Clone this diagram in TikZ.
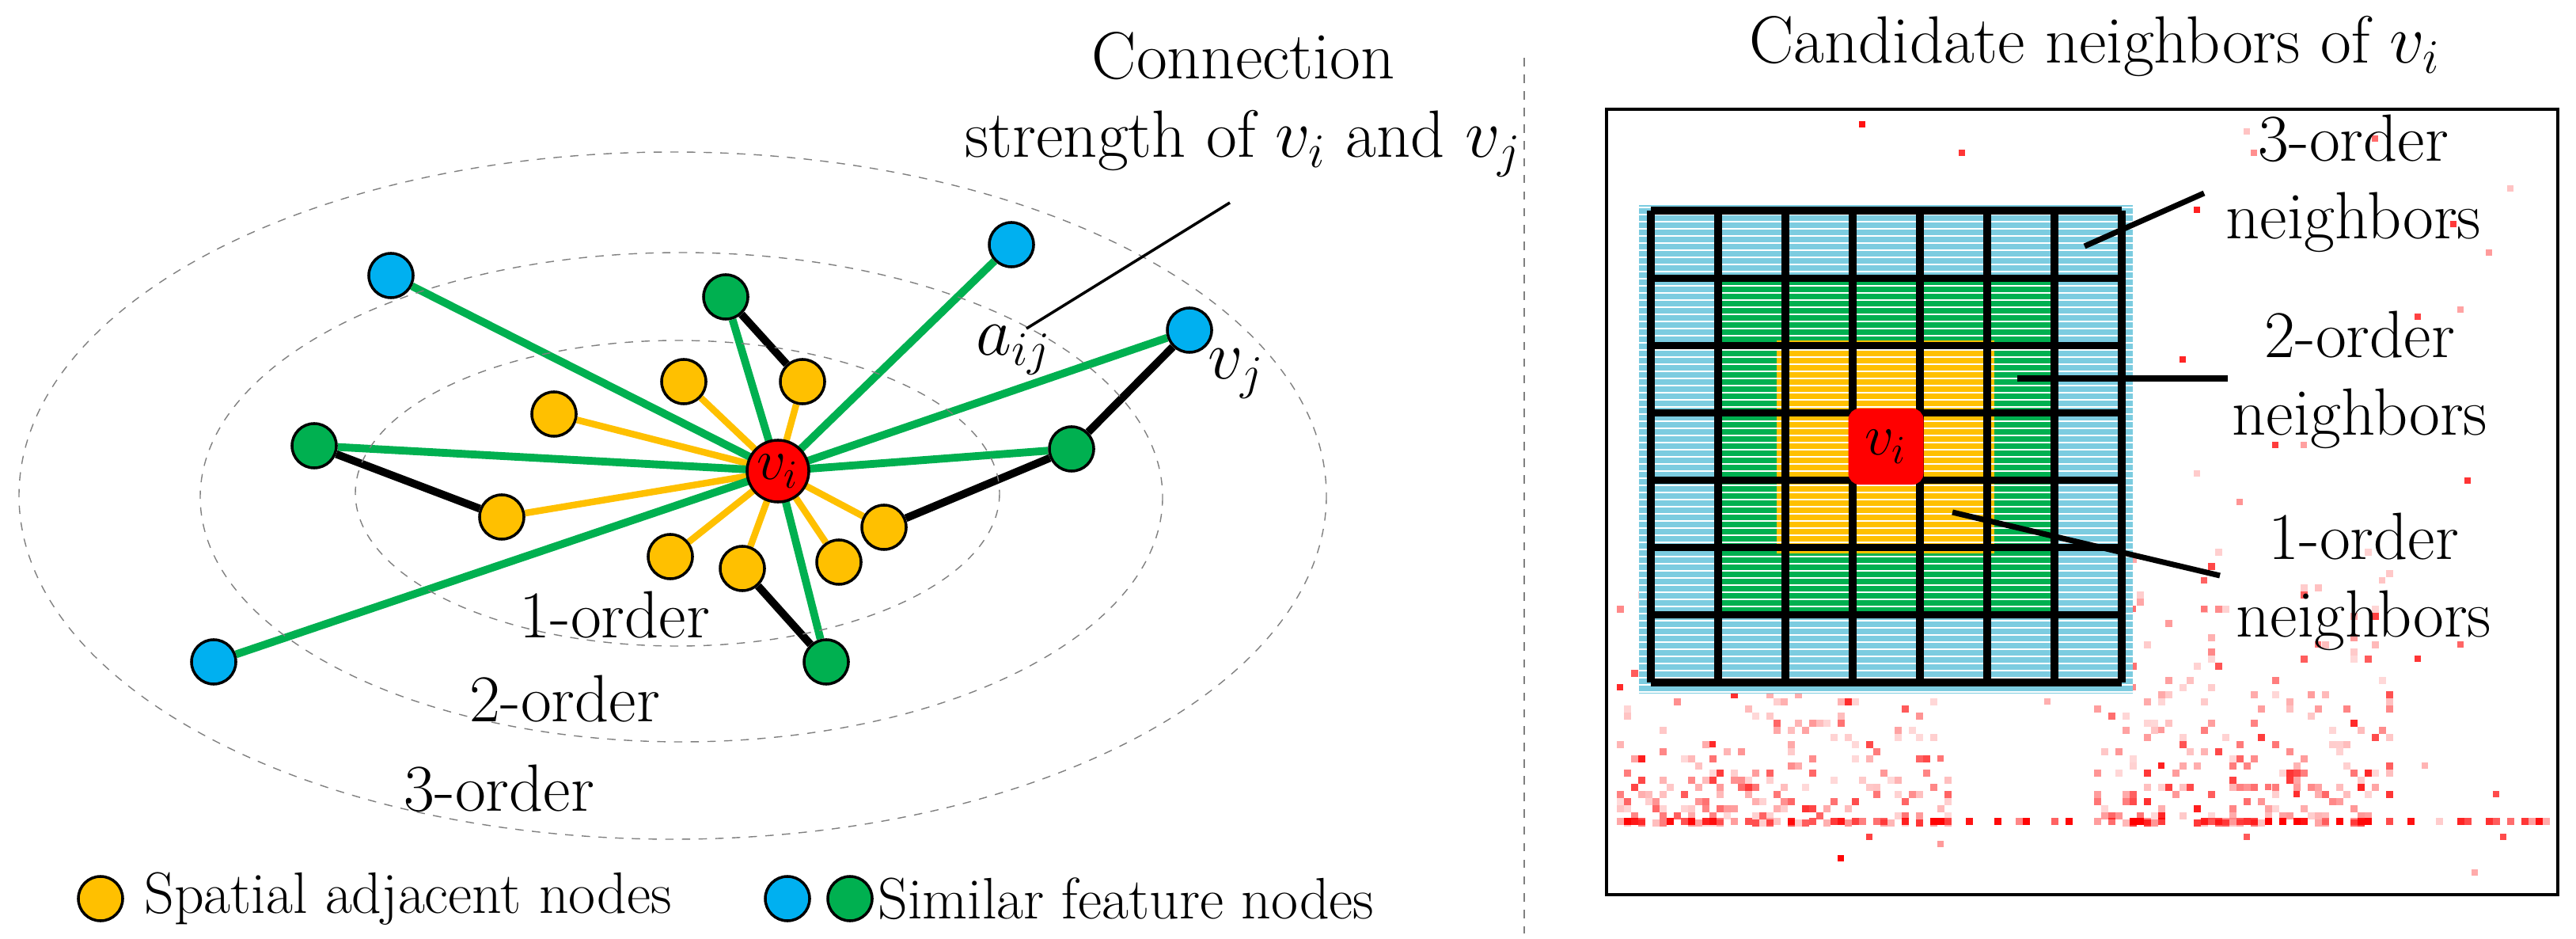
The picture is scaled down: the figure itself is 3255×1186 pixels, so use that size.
\documentclass[tikz,border=0pt]{standalone}
\usepackage{amsmath,amssymb}
\usepackage{tikz}
\usetikzlibrary{backgrounds}
\definecolor{yel}{HTML}{FFC000}
\definecolor{blu}{HTML}{00B0F0}
\definecolor{grn}{HTML}{00B050}
\definecolor{cyn}{HTML}{7CCCE0}
\tikzset{
  nd/.style={draw,circle,line width=1pt,minimum size=0.56cm,inner sep=0pt},
  sp/.style={nd,fill=yel},
  sb/.style={nd,fill=blu},
  sg/.style={nd,fill=grn},
  eg/.style={line width=2.8pt,grn},
  ey/.style={line width=2.4pt,yel},
  eb/.style={line width=2.8pt,black},
  orb/.style={dashed,gray,line width=0.4pt},
  lbl/.style={font=\fontsize{24}{28}\selectfont,align=center},
  leg/.style={font=\fontsize{21}{25}\selectfont,anchor=west}
}
\begin{document}
\begin{tikzpicture}[x=0.01cm,y=-0.01cm]
  \useasboundingbox (0,0) rectangle (3255,1186);
  % orders
  \draw[orb] (850,626) ellipse [x radius=826,y radius=434];
  \draw[orb] (861,628) ellipse [x radius=608,y radius=309];
  \draw[orb] (856,623) ellipse [x radius=407,y radius=193];
  % nodes
  \node[nd,fill=red,minimum size=0.78cm] (vi) at (983,595) {\fontsize{20}{24}\selectfont$v_i$};
  \node[sb] (b1) at (494,348) {};
  \node[sb] (b2) at (1278,309) {};
  \node[sb] (vj) at (1503,417) {};
  \node[sb] (b4) at (270,836) {};
  \node[sg] (g1) at (917,375) {};
  \node[sg] (g2) at (397,563) {};
  \node[sg] (g3) at (1354,567) {};
  \node[sg] (g4) at (1044,836) {};
  \node[sp] (y1) at (864,482) {};
  \node[sp] (y2) at (1014,482) {};
  \node[sp] (y3) at (700,523) {};
  \node[sp] (y4) at (634,653) {};
  \node[sp] (y5) at (847,703) {};
  \node[sp] (y6) at (938,718) {};
  \node[sp] (y7) at (1060,710) {};
  \node[sp] (y8) at (1117,666) {};
  \begin{scope}[on background layer]
    \foreach \n in {y1,y2,y3,y4,y5,y6,y7,y8}{%
      \draw[ey] (vi.center) -- (\n);
    }
    \foreach \n in {b1,b2,vj,b4,g1,g2,g3,g4}{%
      \draw[eg] (vi.center) -- (\n);
    }
    \draw[eb] (g1) -- (y2);
    \draw[eb] (g2) -- (y4);
    \draw[eb] (g3) -- (y8);
    \draw[eb] (g3) -- (vj);
    \draw[eb] (g4) -- (y6);
  \end{scope}
  \node[lbl] (o1) at (777,777) {1-order};
  \node[lbl] (o2) at (714,883) {2-order};
  \node[lbl] (o3) at (631,996) {3-order};
  \node[lbl] (vjl) at (1562,472) {$v_j$};
  \node[lbl] (aij) at (1281,442) {$a_{ij}$};
  \node[lbl] (con) at (1571,132) {Connection\\strength of $v_i$ and $v_j$};
  \coordinate (cA) at (1554,256);
  \coordinate (cB) at (1297,415);
  \draw[line width=1pt] (cA) -- (cB);
  % legend
  \node[sp] (ly) at (127,1135) {};
  \node[leg] (lt1) at (170,1135) {Spatial adjacent nodes};
  \node[sb] (lb) at (995,1135) {};
  \node[sg] (lg) at (1074,1135) {};
  \node[leg] (lt2) at (1097,1135) {Similar feature nodes};
  % separator
  \draw[dashed,gray,line width=0.6pt] (1926,73) -- (1926,1179);
  % right panel
  \node[lbl] (ttl) at (2647,58) {Candidate neighbors of $v_i$};
  \draw[line width=1pt] (2030,138) rectangle (3232,1130);
  % scattered points
  \pgfmathsetseed{11}
  \foreach \k in {1,...,230}{%
    \pgfmathsetmacro\px{9*round((2040+420*rnd)/9)}
    \pgfmathsetmacro\py{9*round((1037-330*rnd*rnd)/9)}
    \pgfmathsetmacro\po{0.15+0.85*rnd*rnd}
    \fill[red,opacity=\po] (\px,\py) rectangle ++(9,9);
  }
  \foreach \k in {1,...,230}{%
    \pgfmathsetmacro\px{9*round((2640+380*rnd)/9)}
    \pgfmathsetmacro\py{9*round((1037-360*rnd*rnd)/9)}
    \pgfmathsetmacro\po{0.15+0.85*rnd*rnd}
    \fill[red,opacity=\po] (\px,\py) rectangle ++(9,9);
  }
  \foreach \k in {1,...,100}{%
    \pgfmathsetmacro\px{9*round((2040+1180*rnd)/9)}
    \pgfmathsetmacro\po{0.2+0.8*rnd}
    \fill[red,opacity=\po] (\px,1033) rectangle ++(9,9);
  }
  \foreach \k in {1,...,60}{%
    \pgfmathsetmacro\px{9*round((2040+1180*rnd)/9)}
    \pgfmathsetmacro\py{9*round((150+960*rnd)/9)}
    \pgfmathsetmacro\po{0.2+0.8*rnd}
    \fill[red,opacity=\po] (\px,\py) rectangle ++(8,8);
  }
  % hatched order regions
  \fill[cyn] (2071,259) rectangle (2695,876);
  \fill[grn] (2171,351) rectangle (2596,777);
  \fill[yel] (2245,430) rectangle (2520,699);
  \foreach \y in {262,271,...,876}{%
    \draw[white,line width=0.8pt] (2071,\y) -- (2695,\y);
  }
  \foreach \i in {0,...,7}{%
    \draw[line width=2.6pt] (2086+85*\i,266) -- (2086+85*\i,862);
    \draw[line width=2.6pt] (2086,266+85.14*\i) -- (2681,266+85.14*\i);
  }
  \node[fill=red,rounded corners=4pt,minimum width=0.95cm,minimum height=0.96cm,inner sep=0pt] (ci) at (2383,564) {\fontsize{22}{26}\selectfont$v_i$};
  \node[lbl] (n3) at (2974,232) {3-order\\neighbors};
  \node[lbl] (n2) at (2982,480) {2-order\\neighbors};
  \node[lbl] (n1) at (2987,735) {1-order\\neighbors};
  \coordinate (p3) at (2634,311);
  \coordinate (p2) at (2549,478);
  \coordinate (p1) at (2467,647);
  \draw[line width=2pt] (p3) -- (2785,244);
  \draw[line width=2pt] (p2) -- (2815,478);
  \draw[line width=2pt] (p1) -- (2805,727);
\end{tikzpicture}
\end{document}
